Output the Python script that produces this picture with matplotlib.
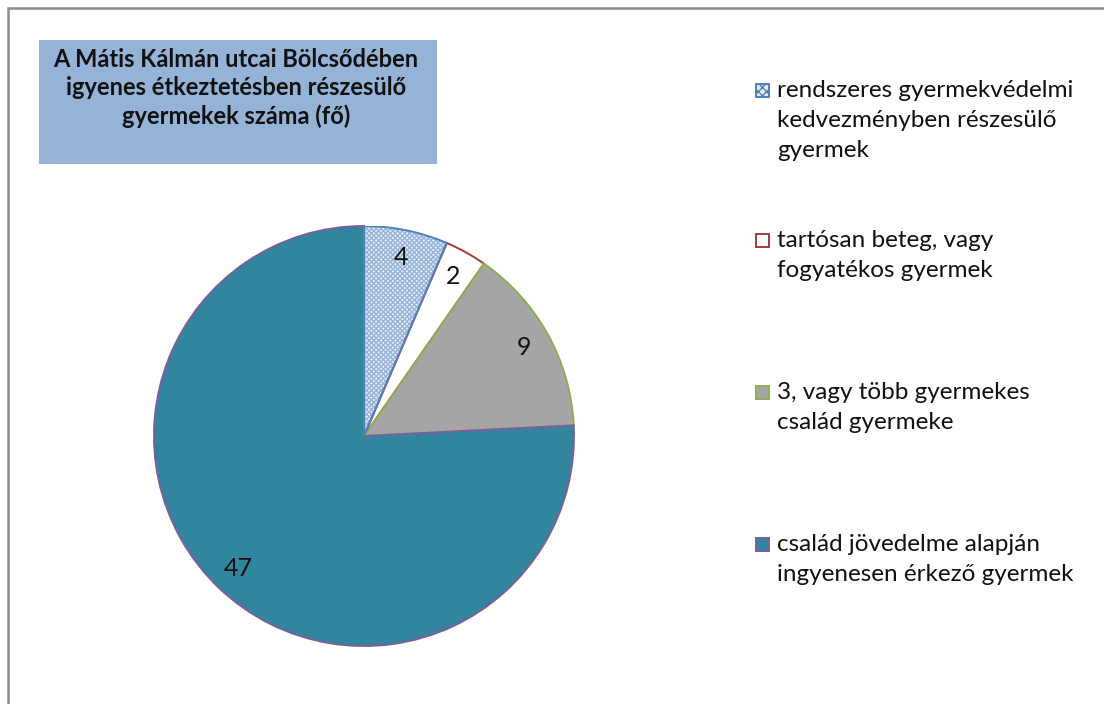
import matplotlib
matplotlib.use("Agg")
import matplotlib.pyplot as plt
from matplotlib.patches import Rectangle, Wedge

plt.rcParams['font.family'] = ['Lato', 'DejaVu Sans']

categories = [
    "rendszeres gyermekvédelmi\nkedvezményben részesülő\ngyermek",
    "tartósan beteg, vagy\nfogyatékos gyermek",
    "3, vagy több gyermekes\ncsalád gyermeke",
    "család jövedelme alapján\ningyenesen érkező gyermek",
]
values = [4, 2, 9, 47]
title = "A Mátis Kálmán utcai Bölcsődében\nigyenes étkeztetésben részesülő\ngyermekek száma (fő)"

faces = ["#ffffff", "#ffffff", "#a5a5a5", "#31859c"]
edges = ["#4f81bd", "#a83a37", "#8fae4f", "#7a5f9c"]

W, H = 1104, 704
fig = plt.figure(figsize=(W / 100, H / 100), dpi=100)

def fx(x):
    return x / W

def fy(y):
    return 1 - y / H

# chart border (cropped at right and bottom)
fig.patches.append(Rectangle((fx(8), fy(760)), fx(1200), (760 - 8) / H,
                             transform=fig.transFigure, fill=False,
                             edgecolor="#8c8c8c", lw=1.8))

# title box
fig.patches.append(Rectangle((fx(39), fy(164)), fx(437 - 39), (164 - 40) / H,
                             transform=fig.transFigure, facecolor="#95b3d7",
                             edgecolor="none"))
fig.text(fx(236), fy(88), title, ha="center", va="center", fontsize=17,
         fontweight="bold", linespacing=1.25, color="#111111")

ax = fig.add_axes([fx(154), fy(646), fx(420), 420 / H])
wedges, texts = ax.pie(values, startangle=90, counterclock=False, radius=1,
                       colors=faces, labels=[str(v) for v in values],
                       labeldistance=0.87,
                       wedgeprops=dict(linewidth=1.4),
                       textprops=dict(fontsize=18, color="#111111",
                                      ha="center", va="center"))
for w, ec in zip(wedges, edges):
    w.set_edgecolor(ec)

# pattern fill for the first slice
w0 = wedges[0]
w0.set_facecolor("#e6edf7")
w0.set_hatch("xxxxxxx")
w0.set_edgecolor("#98b4da")
w0.set_linewidth(0)
ax.add_patch(Wedge(w0.center, w0.r, w0.theta1, w0.theta2, fill=False,
                   edgecolor=edges[0], lw=1.4, zorder=3))
ax.set_xlim(-1, 1)
ax.set_ylim(-1, 1)
ax.set_aspect("equal")
ax.axis("off")

# legend
legend_y = [90, 240, 392, 544]
for i, (lab, ypos) in enumerate(zip(categories, legend_y)):
    box = Rectangle((fx(756), fy(ypos + 7)), fx(13), 13 / H,
                    transform=fig.transFigure, facecolor=faces[i],
                    edgecolor=edges[i], lw=1.4)
    if i == 0:
        box.set_facecolor("#e6edf7")
        box.set_hatch("xxxx")
    fig.patches.append(box)
    fig.text(fx(777), fy(ypos - 10), lab, ha="left", va="top", fontsize=17.5,
             linespacing=1.53, color="#111111")

fig.savefig("out.png", dpi=100, facecolor="white")
